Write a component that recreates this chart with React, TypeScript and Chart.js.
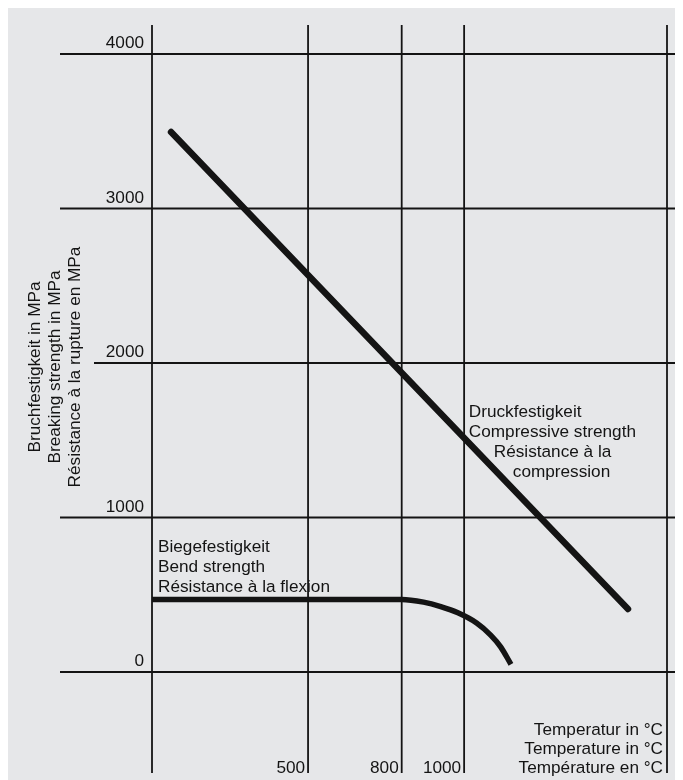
import React, { useEffect, useRef } from "react";
import { Chart, registerables } from "chart.js";

Chart.register(...registerables);

// ---- data ----
const xTickValues = [0, 500, 800, 1000, 1650];
const xTickLabels = ["", "500", "800", "1000", ""];
const yTickValues = [0, 1000, 2000, 3000, 4000];
const yTickLabels = ["0", "1000", "2000", "3000", "4000"];

const compressiveT = [61, 1525];
const compressiveV = [3495, 408];

const bendT = [0, 800, 870, 925, 980, 1040, 1085, 1117, 1150];
const bendV = [470, 470, 452, 423, 383, 317, 239, 163, 50];

const yTitleLines = [
  "Bruchfestigkeit in MPa",
  "Breaking strength in MPa",
  "Résistance à la rupture en MPa",
];
const xTitleLines = ["Temperatur in °C", "Temperature in °C", "Température en °C"];
const compressiveLabel = [
  "Druckfestigkeit",
  "Compressive strength",
  "Résistance à la",
  "compression",
];
const bendLabel = ["Biegefestigkeit", "Bend strength", "Résistance à la flexion"];

// ---- style ----
const BG = "rgb(230,231,233)";
const INK = "#141414";
const FONT = "17.2px 'Liberation Sans', Arial, Helvetica, sans-serif";
const CANVAS_W = 675;
const CANVAS_H = 772;

const decorPlugin = {
  id: "decor",
  beforeDraw(chart: any) {
    const ctx = chart.ctx;
    ctx.save();
    ctx.fillStyle = BG;
    ctx.fillRect(0, 0, chart.width, chart.height);
    ctx.restore();
  },
  beforeDatasetsDraw(chart: any) {
    const ctx = chart.ctx;
    const xs = chart.scales.x;
    const ys = chart.scales.y;
    ctx.save();
    ctx.strokeStyle = INK;
    ctx.lineWidth = 1.8;
    yTickValues.forEach((v) => {
      const y = ys.getPixelForValue(v);
      const start = v === 2000 ? 86 : 52;
      ctx.beginPath();
      ctx.moveTo(start, y);
      ctx.lineTo(chart.width, y);
      ctx.stroke();
    });
    xTickValues.forEach((v) => {
      const x = xs.getPixelForValue(v);
      ctx.beginPath();
      ctx.moveTo(x, 17);
      ctx.lineTo(x, 765);
      ctx.stroke();
    });
    ctx.restore();
  },
  afterDatasetsDraw(chart: any) {
    const ctx = chart.ctx;
    const xs = chart.scales.x;
    const ys = chart.scales.y;
    ctx.save();
    ctx.fillStyle = INK;
    ctx.font = FONT;
    ctx.textAlign = "right";
    ctx.textBaseline = "alphabetic";
    const x0 = xs.getPixelForValue(0);
    yTickValues.forEach((v, i) => {
      ctx.fillText(yTickLabels[i], x0 - 8, ys.getPixelForValue(v) - 6);
    });
    xTickValues.forEach((v, i) => {
      if (!xTickLabels[i]) return;
      ctx.fillText(xTickLabels[i], xs.getPixelForValue(v) - 3, 765);
    });
    const xr = xs.getPixelForValue(1650) - 4;
    xTitleLines.forEach((t, i) => {
      ctx.fillText(t, xr, 727 + i * 19);
    });
    ctx.textAlign = "left";
    const cx = xs.getPixelForValue(1015);
    const cy = ys.getPixelForValue(1650);
    const cOff = [0, 0, 25, 44];
    compressiveLabel.forEach((t, i) => {
      ctx.fillText(t, cx + cOff[i], cy + i * 20);
    });
    const bx = xs.getPixelForValue(0) + 6;
    const by = ys.getPixelForValue(775);
    bendLabel.forEach((t, i) => {
      ctx.fillText(t, bx, by + i * 20);
    });
    const yc = ys.getPixelForValue(2000) + 4;
    ctx.textAlign = "center";
    ctx.textBaseline = "middle";
    yTitleLines.forEach((t, i) => {
      ctx.save();
      ctx.translate(27 + i * 20, yc);
      ctx.rotate(-Math.PI / 2);
      ctx.fillText(t, 0, 0);
      ctx.restore();
    });
    ctx.restore();
  },
};

export default function App() {
  const ref = useRef<HTMLCanvasElement>(null);
  useEffect(() => {
    if (!ref.current) return;
    const chart = new Chart(ref.current, {
      type: "line",
      data: {
        datasets: [
          {
            label: "Compressive strength",
            data: compressiveT.map((t, i) => ({ x: t, y: compressiveV[i] })),
            borderColor: INK,
            borderWidth: 6.5,
            borderCapStyle: "round",
            pointRadius: 0,
            fill: false,
            clip: false as any,
          },
          {
            label: "Bend strength",
            data: bendT.map((t, i) => ({ x: t, y: bendV[i] })),
            borderColor: INK,
            borderWidth: 5.5,
            borderCapStyle: "butt",
            cubicInterpolationMode: "monotone",
            pointRadius: 0,
            fill: false,
            clip: false as any,
          },
        ],
      },
      options: {
        animation: false,
        responsive: false,
        layout: { padding: { left: 144, right: 16, top: 46, bottom: 108 } },
        plugins: { legend: { display: false }, tooltip: { enabled: false } },
        scales: {
          x: { type: "linear", min: 0, max: 1650, display: false },
          y: { type: "linear", min: 0, max: 4000, display: false },
        },
      },
      plugins: [decorPlugin],
    });
    return () => chart.destroy();
  }, []);
  return (
    <canvas
      ref={ref}
      width={CANVAS_W}
      height={CANVAS_H}
      style={{ display: "block", width: CANVAS_W, height: CANVAS_H }}
    />
  );
}
